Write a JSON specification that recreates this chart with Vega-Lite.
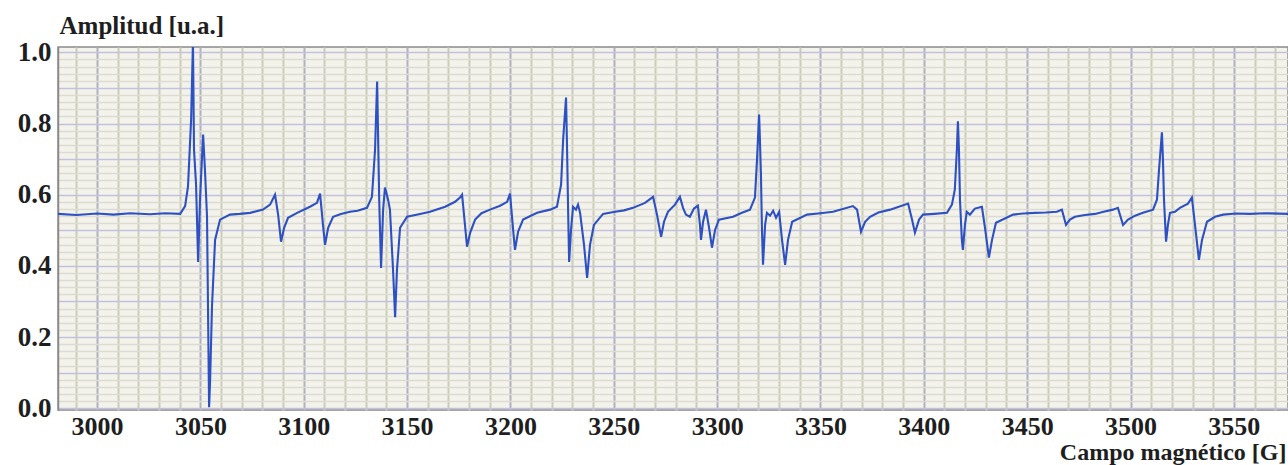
{
  "$schema": "https://vega.github.io/schema/vega-lite/v6.json",
  "autosize": {"type": "none"},
  "padding": {"left": 58, "top": 47, "right": 0, "bottom": 55},
  "width": 1230,
  "height": 363,
  "background": "#ffffff",
  "config": {
    "view": {"fill": "#f4f3eb", "stroke": "#8a8a8a", "strokeWidth": 1.5},
    "font": "Liberation Serif"
  },
  "data": {"values": [
    {"g": 2981.1, "a": 0.546}, {"g": 2990, "a": 0.543}, {"g": 3000, "a": 0.547}, {"g": 3008, "a": 0.544},
    {"g": 3016, "a": 0.548}, {"g": 3025.6, "a": 0.545}, {"g": 3033, "a": 0.548}, {"g": 3040.2, "a": 0.546},
    {"g": 3042.6, "a": 0.568}, {"g": 3044.0, "a": 0.623}, {"g": 3045.5, "a": 0.811}, {"g": 3046.4, "a": 1.03},
    {"g": 3046.9, "a": 0.727}, {"g": 3047.9, "a": 0.628}, {"g": 3048.9, "a": 0.411}, {"g": 3049.8, "a": 0.586},
    {"g": 3051.3, "a": 0.769}, {"g": 3052.2, "a": 0.670}, {"g": 3053.2, "a": 0.538}, {"g": 3054.2, "a": 0.003},
    {"g": 3054.7, "a": 0.079}, {"g": 3055.6, "a": 0.285}, {"g": 3057.1, "a": 0.473}, {"g": 3059.5, "a": 0.530},
    {"g": 3064.3, "a": 0.544}, {"g": 3069, "a": 0.546}, {"g": 3074.0, "a": 0.549}, {"g": 3080.3, "a": 0.558},
    {"g": 3083.7, "a": 0.572}, {"g": 3086.1, "a": 0.600}, {"g": 3087.6, "a": 0.544}, {"g": 3089.0, "a": 0.468},
    {"g": 3090.5, "a": 0.507}, {"g": 3092.4, "a": 0.535}, {"g": 3096.8, "a": 0.549}, {"g": 3103.0, "a": 0.566},
    {"g": 3106.4, "a": 0.577}, {"g": 3107.9, "a": 0.603}, {"g": 3109.3, "a": 0.515}, {"g": 3110.3, "a": 0.459},
    {"g": 3111.8, "a": 0.507}, {"g": 3114.2, "a": 0.538}, {"g": 3118, "a": 0.546}, {"g": 3122.4, "a": 0.552},
    {"g": 3126, "a": 0.555}, {"g": 3130.6, "a": 0.563}, {"g": 3133.0, "a": 0.594}, {"g": 3134.5, "a": 0.727},
    {"g": 3135.5, "a": 0.918}, {"g": 3136.0, "a": 0.755}, {"g": 3136.5, "a": 0.586}, {"g": 3137.4, "a": 0.394},
    {"g": 3138.4, "a": 0.558}, {"g": 3139.3, "a": 0.620}, {"g": 3140.8, "a": 0.586}, {"g": 3141.7, "a": 0.558},
    {"g": 3143.2, "a": 0.389}, {"g": 3144.2, "a": 0.256}, {"g": 3145.1, "a": 0.389}, {"g": 3146.6, "a": 0.507},
    {"g": 3150.0, "a": 0.538}, {"g": 3156.3, "a": 0.546}, {"g": 3161.1, "a": 0.552}, {"g": 3168.4, "a": 0.566},
    {"g": 3173.2, "a": 0.580}, {"g": 3175.6, "a": 0.592}, {"g": 3176.6, "a": 0.600}, {"g": 3178.0, "a": 0.515},
    {"g": 3179.0, "a": 0.454}, {"g": 3180.5, "a": 0.493}, {"g": 3182.9, "a": 0.530}, {"g": 3186, "a": 0.548},
    {"g": 3190.1, "a": 0.558}, {"g": 3195.0, "a": 0.569}, {"g": 3198.4, "a": 0.580}, {"g": 3199.8, "a": 0.603},
    {"g": 3201.3, "a": 0.501}, {"g": 3202.2, "a": 0.445}, {"g": 3203.7, "a": 0.496}, {"g": 3206.1, "a": 0.530},
    {"g": 3212.9, "a": 0.549}, {"g": 3219.2, "a": 0.558}, {"g": 3222.5, "a": 0.566}, {"g": 3224.5, "a": 0.628},
    {"g": 3225.5, "a": 0.755}, {"g": 3226.9, "a": 0.873}, {"g": 3227.4, "a": 0.727}, {"g": 3227.9, "a": 0.558},
    {"g": 3228.4, "a": 0.411}, {"g": 3229.3, "a": 0.501}, {"g": 3230.3, "a": 0.566}, {"g": 3231.7, "a": 0.558},
    {"g": 3232.7, "a": 0.572}, {"g": 3233.7, "a": 0.549}, {"g": 3235.6, "a": 0.459}, {"g": 3237.1, "a": 0.366},
    {"g": 3238.5, "a": 0.459}, {"g": 3240.4, "a": 0.515}, {"g": 3244.8, "a": 0.546}, {"g": 3250.6, "a": 0.552},
    {"g": 3255, "a": 0.556}, {"g": 3259.3, "a": 0.563}, {"g": 3265.1, "a": 0.577}, {"g": 3269.0, "a": 0.594},
    {"g": 3270.9, "a": 0.544}, {"g": 3272.9, "a": 0.482}, {"g": 3274.3, "a": 0.524}, {"g": 3276.2, "a": 0.552},
    {"g": 3279.6, "a": 0.572}, {"g": 3282.0, "a": 0.594}, {"g": 3283.5, "a": 0.563}, {"g": 3284.9, "a": 0.544},
    {"g": 3286.8, "a": 0.538}, {"g": 3288.8, "a": 0.561}, {"g": 3290.7, "a": 0.569}, {"g": 3291.7, "a": 0.515},
    {"g": 3292.2, "a": 0.473}, {"g": 3293.2, "a": 0.524}, {"g": 3294.6, "a": 0.558}, {"g": 3296.1, "a": 0.507},
    {"g": 3297.5, "a": 0.451}, {"g": 3299.0, "a": 0.501}, {"g": 3300.9, "a": 0.530}, {"g": 3307.7, "a": 0.538},
    {"g": 3312, "a": 0.549}, {"g": 3315.9, "a": 0.558}, {"g": 3318.3, "a": 0.592}, {"g": 3319.3, "a": 0.699},
    {"g": 3320.3, "a": 0.825}, {"g": 3320.7, "a": 0.755}, {"g": 3321.2, "a": 0.656}, {"g": 3321.7, "a": 0.501},
    {"g": 3322.2, "a": 0.403}, {"g": 3323.2, "a": 0.515}, {"g": 3324.1, "a": 0.549}, {"g": 3325.6, "a": 0.541},
    {"g": 3327.1, "a": 0.555}, {"g": 3328.5, "a": 0.535}, {"g": 3330.0, "a": 0.552}, {"g": 3331.4, "a": 0.473},
    {"g": 3332.9, "a": 0.403}, {"g": 3334.3, "a": 0.473}, {"g": 3336.3, "a": 0.524}, {"g": 3343.5, "a": 0.544},
    {"g": 3350, "a": 0.548}, {"g": 3356.1, "a": 0.552}, {"g": 3365.7, "a": 0.568}, {"g": 3367.7, "a": 0.558},
    {"g": 3369.6, "a": 0.496}, {"g": 3371.6, "a": 0.524}, {"g": 3374.0, "a": 0.538}, {"g": 3378, "a": 0.550},
    {"g": 3383.7, "a": 0.558}, {"g": 3392.4, "a": 0.575}, {"g": 3394.3, "a": 0.530}, {"g": 3395.7, "a": 0.493},
    {"g": 3397.7, "a": 0.530}, {"g": 3399.6, "a": 0.544}, {"g": 3405, "a": 0.546}, {"g": 3411.2, "a": 0.549},
    {"g": 3413.6, "a": 0.572}, {"g": 3415.0, "a": 0.614}, {"g": 3416.0, "a": 0.727}, {"g": 3416.5, "a": 0.806},
    {"g": 3417.0, "a": 0.727}, {"g": 3417.5, "a": 0.586}, {"g": 3418.4, "a": 0.473}, {"g": 3418.9, "a": 0.445},
    {"g": 3419.9, "a": 0.515}, {"g": 3420.8, "a": 0.552}, {"g": 3422.3, "a": 0.544}, {"g": 3424.7, "a": 0.561},
    {"g": 3428.1, "a": 0.566}, {"g": 3429.6, "a": 0.507}, {"g": 3431.5, "a": 0.423}, {"g": 3433.0, "a": 0.473},
    {"g": 3434.9, "a": 0.521}, {"g": 3443.2, "a": 0.544}, {"g": 3448, "a": 0.547}, {"g": 3453.8, "a": 0.549},
    {"g": 3459, "a": 0.550}, {"g": 3464.4, "a": 0.552}, {"g": 3466.8, "a": 0.558}, {"g": 3468.8, "a": 0.515},
    {"g": 3470.7, "a": 0.530}, {"g": 3473.1, "a": 0.538}, {"g": 3478, "a": 0.543}, {"g": 3482.8, "a": 0.546},
    {"g": 3487, "a": 0.552}, {"g": 3491.5, "a": 0.558}, {"g": 3493.9, "a": 0.563}, {"g": 3496.4, "a": 0.515},
    {"g": 3498.8, "a": 0.530}, {"g": 3502.2, "a": 0.541}, {"g": 3506, "a": 0.549}, {"g": 3510.9, "a": 0.558},
    {"g": 3512.8, "a": 0.586}, {"g": 3513.8, "a": 0.670}, {"g": 3515.2, "a": 0.775}, {"g": 3515.7, "a": 0.699},
    {"g": 3516.2, "a": 0.586}, {"g": 3517.2, "a": 0.468}, {"g": 3518.1, "a": 0.515}, {"g": 3519.1, "a": 0.549},
    {"g": 3521.5, "a": 0.552}, {"g": 3523.9, "a": 0.563}, {"g": 3527.8, "a": 0.575}, {"g": 3529.7, "a": 0.592},
    {"g": 3531.2, "a": 0.515}, {"g": 3533.1, "a": 0.417}, {"g": 3534.6, "a": 0.473}, {"g": 3537.0, "a": 0.524},
    {"g": 3540.9, "a": 0.538}, {"g": 3544.8, "a": 0.544}, {"g": 3551, "a": 0.547}, {"g": 3557.8, "a": 0.546},
    {"g": 3565, "a": 0.548}, {"g": 3576.2, "a": 0.546}
  ]},
  "mark": {"type": "line", "color": "#2d50c2", "strokeWidth": 2.1, "clip": true},
  "encoding": {
    "x": {
      "field": "g", "type": "quantitative",
      "scale": {"domain": [2981.1, 3576.2], "nice": false, "zero": false},
      "axis": {
        "values": [2990,3000,3010,3020,3030,3040,3050,3060,3070,3080,3090,3100,3110,3120,3130,3140,3150,3160,3170,3180,3190,3200,3210,3220,3230,3240,3250,3260,3270,3280,3290,3300,3310,3320,3330,3340,3350,3360,3370,3380,3390,3400,3410,3420,3430,3440,3450,3460,3470,3480,3490,3500,3510,3520,3530,3540,3550,3560,3570],
        "labelExpr": "datum.value % 50 === 0 ? format(datum.value, 'd') : ''",
        "labelOverlap": false,
        "labelFont": "Liberation Serif", "labelFontWeight": "bold", "labelFontSize": 26, "labelColor": "#1e1e1e",
        "labelPadding": 3,
        "ticks": false,
        "domain": false,
        "grid": true,
        "gridColor": {"condition": {"test": "datum.value % 50 === 0", "value": "#b0b0c2"}, "value": "#cbcdb9"},
        "gridWidth": 2,
        "title": "Campo magnético [G]",
        "titleFont": "Liberation Serif", "titleFontWeight": "bold", "titleFontSize": 24, "titleColor": "#1e1e1e",
        "titleAnchor": "end", "titleAlign": "right", "titleBaseline": "alphabetic",
        "titleX": 1228, "titleY": 49
      }
    },
    "y": {
      "field": "a", "type": "quantitative",
      "scale": {"domain": [-0.005, 1.015], "nice": false, "zero": false},
      "axis": {
        "values": [0,0.02,0.04,0.06,0.08,0.1,0.12,0.14,0.16,0.18,0.2,0.22,0.24,0.26,0.28,0.3,0.32,0.34,0.36,0.38,0.4,0.42,0.44,0.46,0.48,0.5,0.52,0.54,0.56,0.58,0.6,0.62,0.64,0.66,0.68,0.7,0.72,0.74,0.76,0.78,0.8,0.82,0.84,0.86,0.88,0.9,0.92,0.94,0.96,0.98,1.0],
        "labelExpr": "abs(datum.value*5 - round(datum.value*5)) < 0.001 ? format(datum.value, '.1f') : ''",
        "labelOverlap": false,
        "labelFont": "Liberation Serif", "labelFontWeight": "bold", "labelFontSize": 27, "labelColor": "#1e1e1e",
        "labelPadding": 7,
        "ticks": false,
        "domain": true, "domainColor": "#8a8a8a", "domainWidth": 1.5,
        "grid": true,
        "gridColor": {"condition": {"test": "abs(datum.value*10 - round(datum.value*10)) < 0.001", "value": "#c2c2e0"}, "value": "#dcdcd3"},
        "gridWidth": 1.6,
        "title": "Amplitud [u.a.]",
        "titleFont": "Liberation Serif", "titleFontWeight": "bold", "titleFontSize": 25, "titleColor": "#1e1e1e",
        "titleAngle": 0, "titleAlign": "left", "titleBaseline": "alphabetic", "titleAnchor": "start",
        "titleX": 1, "titleY": -14
      }
    }
  }
}
